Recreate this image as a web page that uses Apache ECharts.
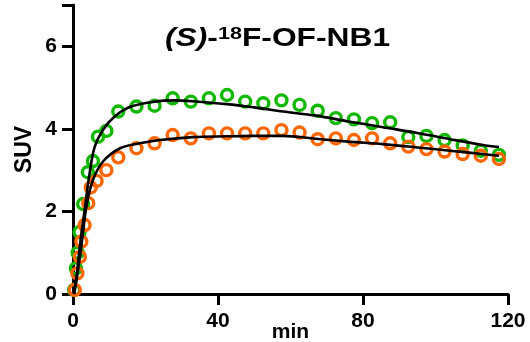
<!DOCTYPE html>
<html>
<head>
<meta charset="utf-8">
<script src="https://cdn.jsdelivr.net/npm/echarts@6/dist/echarts.min.js"></script>
<style>
  html, body { margin: 0; padding: 0; background: #fff; }
  #chart { width: 530px; height: 342px; }
</style>
</head>
<body>
<div id="chart"></div>
<script>
// Time-activity data, [min, SUV]
const greenPoints = [
  [0.3, 0.1], [0.8, 0.62], [1.3, 1.0], [1.8, 1.5], [2.8, 2.18], [4.1, 2.95],
  [5.5, 3.22], [6.9, 3.81], [9.2, 3.95], [12.5, 4.42], [17.5, 4.54], [22.5, 4.56],
  [27.5, 4.74], [32.5, 4.66], [37.5, 4.74], [42.5, 4.82], [47.5, 4.66], [52.5, 4.62],
  [57.5, 4.69], [62.5, 4.58], [67.5, 4.44], [72.5, 4.26], [77.5, 4.23], [82.5, 4.14],
  [87.5, 4.16], [92.5, 3.80], [97.5, 3.83], [102.5, 3.73], [107.5, 3.60], [112.5, 3.47],
  [117.5, 3.37]
];
const orangePoints = [
  [-0.4, 0.02], [0.5, 0.1], [1.2, 0.5], [1.9, 0.9], [2.3, 1.27], [3.2, 1.67],
  [4.2, 2.2], [4.9, 2.58], [6.5, 2.74], [9.2, 3.0], [12.5, 3.31], [17.5, 3.53],
  [22.5, 3.65], [27.5, 3.85], [32.5, 3.77], [37.5, 3.89], [42.5, 3.89], [47.5, 3.89],
  [52.5, 3.89], [57.5, 3.97], [62.5, 3.91], [67.5, 3.75], [72.5, 3.77], [77.5, 3.73],
  [82.5, 3.77], [87.5, 3.65], [92.5, 3.57], [97.5, 3.51], [102.5, 3.45], [107.5, 3.39],
  [112.5, 3.35], [117.5, 3.27]
];
// Model fit curves
const greenFit = [
  [0.3, 0], [1, 0.45], [2, 1.25], [3, 1.9], [4.6, 2.93], [6, 3.57], [8.3, 3.98],
  [11.5, 4.3], [16, 4.54], [22.5, 4.66], [28, 4.69], [33, 4.67], [42.5, 4.6],
  [50, 4.52], [58, 4.42], [67, 4.32], [76, 4.18], [85.5, 4.04], [95, 3.9],
  [104, 3.75], [113, 3.61], [117.5, 3.56]
];
const orangeFit = [
  [0.3, 0], [1, 0.35], [2.3, 1.15], [3.7, 2.12], [5.5, 2.76], [8.3, 3.21],
  [13, 3.53], [18.4, 3.65], [24, 3.73], [33, 3.8], [42.5, 3.82], [50, 3.83],
  [58, 3.83], [67, 3.76], [76, 3.69], [85.5, 3.63], [95, 3.55], [104, 3.47],
  [113, 3.39], [117.5, 3.35]
];
const xTicks = { min: 0, max: 120, interval: 40 };
const yTicks = { min: 0, max: 7, interval: 2 };

const FONT = 'Arial, "Liberation Sans", sans-serif';
const chart = echarts.init(document.getElementById('chart'), null, { renderer: 'canvas' });

function axisCommon() {
  return {
    axisLine: { show: true, onZero: false, lineStyle: { color: '#000', width: 3 } },
    axisTick: { show: true, inside: false, length: 11, lineStyle: { color: '#000', width: 3 } },
    splitLine: { show: false },
    axisLabel: { color: '#000', fontFamily: FONT, fontWeight: 'bold', fontSize: 21 }
  };
}

const xAxis = Object.assign(axisCommon(), {
  type: 'value', min: xTicks.min, max: xTicks.max, interval: xTicks.interval,
  name: 'min', nameLocation: 'middle', nameGap: 28, nameMoveOverlap: false,
  nameTextStyle: { color: '#000', fontFamily: FONT, fontWeight: 'bold', fontSize: 21 }
});
xAxis.axisLabel.margin = 17;

const yAxis = Object.assign(axisCommon(), {
  type: 'value', min: yTicks.min, max: yTicks.max, interval: yTicks.interval,
  name: 'SUV', nameLocation: 'middle', nameGap: 37, nameRotate: 90, nameMoveOverlap: false,
  nameTextStyle: { color: '#000', fontFamily: FONT, fontWeight: 'bold', fontSize: 23 }
});
yAxis.axisLabel.margin = 16;
yAxis.axisLabel.formatter = v => (v % 2 === 0 ? String(v) : '');

function points(data, color) {
  return {
    type: 'scatter', data: data, symbol: 'circle', symbolSize: 11,
    itemStyle: { color: 'rgba(255,255,255,0)', borderColor: color, borderWidth: 3.4, opacity: 1 },
    emphasis: { disabled: true }, silent: true
  };
}
function fit(data) {
  return {
    type: 'line', data: data, showSymbol: false, smooth: 0.35,
    lineStyle: { color: '#000', width: 2.6 }, silent: true
  };
}

chart.setOption({
  animation: false,
  grid: { left: 73, right: 22, top: 5, bottom: 48, containLabel: false, outerBoundsMode: 'none' },
  xAxis: xAxis,
  yAxis: yAxis,
  series: [
    points(greenPoints, '#12B800'),
    points(orangePoints, '#FF6600'),
    fit(greenFit),
    fit(orangeFit)
  ],
  graphic: [{
    type: 'text', x: 165, y: 39, scaleX: 1.27, scaleY: 1,
    style: {
      text: '{i|(S)}{p|-}{s|18}{p|F-OF-NB1}',
      x: 0, y: 0, align: 'left', verticalAlign: 'middle',
      fill: '#000',
      rich: {
        p: { fontFamily: FONT, fontWeight: 'bold', fontSize: 25, fill: '#000', verticalAlign: 'bottom', lineHeight: 26 },
        i: { fontFamily: FONT, fontWeight: 'bold', fontStyle: 'italic', fontSize: 25, fill: '#000', verticalAlign: 'bottom', lineHeight: 26 },
        s: { fontFamily: FONT, fontWeight: 'bold', fontSize: 17, fill: '#000', verticalAlign: 'top', lineHeight: 26 }
      }
    }
  }]
});
</script>
</body>
</html>
